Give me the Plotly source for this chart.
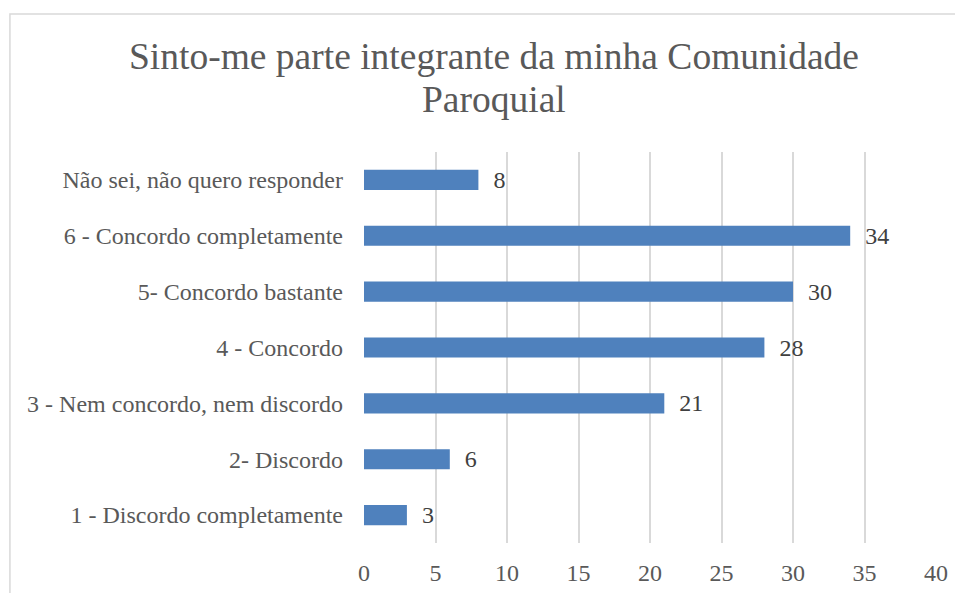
import plotly.graph_objects as go

categories = [
    "1 - Discordo completamente",
    "2- Discordo",
    "3 - Nem concordo, nem discordo",
    "4 - Concordo",
    "5- Concordo bastante",
    "6 - Concordo completamente",
    "Não sei, não quero responder",
]
values = [3, 6, 21, 28, 30, 34, 8]
x_ticks = [0, 5, 10, 15, 20, 25, 30, 35, 40]

title_lines = ["Sinto-me parte integrante da minha Comunidade", "Paroquial"]
font_family = "Liberation Serif"
text_color = "#595959"

fig = go.Figure(
    go.Bar(
        x=values,
        y=categories,
        orientation="h",
        marker=dict(color="#4F81BD", line=dict(width=0)),
        width=0.36,
        text=values,
        texttemplate="  %{x}",
        textposition="outside",
        constraintext="none",
        textfont=dict(size=24, color="#404040", family=font_family),
        cliponaxis=False,
    )
)

# title as two annotations so the line spacing can follow the original
for line, ypos in zip(title_lines, [1.245, 1.133]):
    fig.add_annotation(
        text=line,
        xref="paper",
        yref="paper",
        x=0.2273,
        y=ypos,
        xanchor="center",
        yanchor="middle",
        showarrow=False,
        font=dict(size=37.5, color=text_color, family=font_family),
    )

fig.update_layout(
    width=963,
    height=593,
    margin=dict(l=356, r=35, t=144, b=58),
    paper_bgcolor="white",
    plot_bgcolor="white",
    font=dict(family=font_family, color=text_color, size=24),
    showlegend=False,
    shapes=[
        dict(
            type="rect",
            xref="paper",
            yref="paper",
            x0=-0.619,
            x1=1.3,
            y0=-0.4,
            y1=1.353,
            line=dict(color="#D9D9D9", width=1.5),
            layer="below",
        )
    ],
)

fig.update_xaxes(
    range=[0, 40],
    tickvals=x_ticks,
    showgrid=True,
    gridcolor="#D9D9D9",
    gridwidth=1.5,
    zeroline=False,
    showline=False,
    ticks="",
    ticklabelstandoff=13,
    tickfont=dict(size=24, color=text_color),
)
fig.update_yaxes(
    showgrid=False,
    showline=False,
    ticks="",
    ticklabelstandoff=20,
    tickfont=dict(size=24, color=text_color),
)

fig.write_html("out.html")
